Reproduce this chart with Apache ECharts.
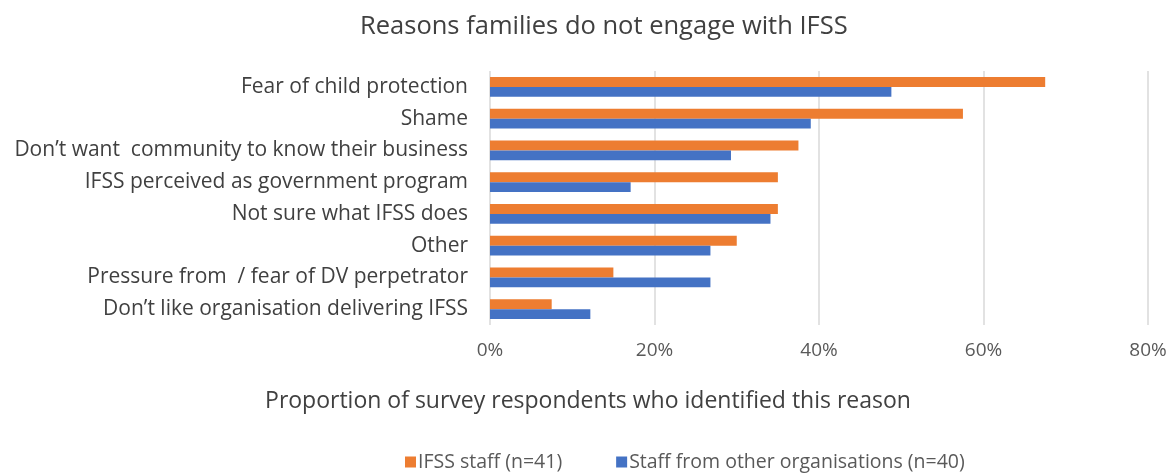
<!DOCTYPE html>
<html>
<head>
<meta charset="utf-8">
<script src="https://cdn.jsdelivr.net/npm/echarts@6/dist/echarts.min.js"></script>
<style>
  html, body { margin: 0; padding: 0; background: #fff; }
  #chart { width: 1176px; height: 473px; }
</style>
</head>
<body>
<div id="chart"></div>
<script>
// Reasons, top to bottom
const categories = [
  'Fear of child protection',
  'Shame',
  'Don\u2019t want  community to know their business',
  'IFSS perceived as government program',
  'Not sure what IFSS does',
  'Other',
  'Pressure from  / fear of DV perpetrator',
  'Don\u2019t like organisation delivering IFSS'
];
// Share of respondents naming each reason
const ifssStaff = [0.675, 0.575, 0.375, 0.35, 0.35, 0.30, 0.15, 0.075];
const otherOrgStaff = [0.488, 0.390, 0.293, 0.171, 0.341, 0.268, 0.268, 0.122];
const seriesNames = ['IFSS staff (n=41)', 'Staff from other organisations (n=40)'];
const xTicks = { min: 0, max: 0.8, interval: 0.2 };

const FONT = '"Open Sans", Lato, sans-serif';
const TEXT = '#404040';

const chart = echarts.init(document.getElementById('chart'), null, { renderer: 'canvas' });
chart.setOption({
  animation: false,
  backgroundColor: '#fff',
  title: [
    {
      text: 'Reasons families do not engage with IFSS',
      left: 355, top: 9,
      textStyle: { fontFamily: FONT, fontSize: 25.5, fontWeight: 'normal', color: TEXT }
    },
    {
      text: 'Proportion of survey respondents who identified this reason',
      left: 'center', top: 385,
      textStyle: { fontFamily: FONT, fontSize: 23, fontWeight: 'normal', color: TEXT }
    }
  ],
  legend: {
    left: 400, top: 447,
    itemWidth: 11, itemHeight: 11, itemGap: 54,
    icon: 'rect',
    textStyle: { fontFamily: FONT, fontSize: 19.5, color: '#595959', padding: [0, 0, 0, -3] },
    data: seriesNames
  },
  grid: { left: 490, right: 28, top: 71, bottom: 148, containLabel: false },
  xAxis: {
    type: 'value',
    min: xTicks.min, max: xTicks.max, interval: xTicks.interval,
    axisLine: { show: false },
    axisTick: { show: false },
    splitLine: { lineStyle: { color: '#d9d9d9', width: 1.5 } },
    axisLabel: {
      margin: 16,
      fontFamily: FONT, fontSize: 19, color: '#595959',
      formatter: v => Math.round(v * 100) + '%'
    }
  },
  yAxis: {
    type: 'category',
    inverse: true,
    data: categories,
    axisLine: { show: false },
    axisTick: { show: false },
    axisLabel: { margin: 22, fontFamily: FONT, fontSize: 21, color: TEXT }
  },
  series: [
    {
      name: seriesNames[0], type: 'bar', data: ifssStaff,
      itemStyle: { color: '#ED7D31' },
      barGap: '0%', barCategoryGap: '38%'
    },
    {
      name: seriesNames[1], type: 'bar', data: otherOrgStaff,
      itemStyle: { color: '#4472C4' },
      barGap: '0%', barCategoryGap: '38%'
    }
  ]
});
</script>
</body>
</html>
